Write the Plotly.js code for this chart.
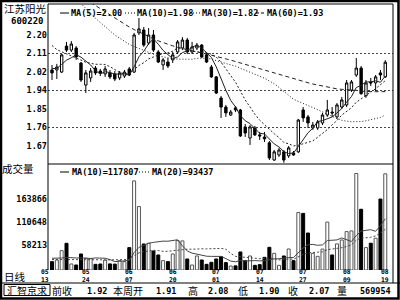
<!DOCTYPE html>
<html><head><meta charset="utf-8">
<script src="https://cdn.plot.ly/plotly-3.0.1.min.js"></script>
<style>html,body{margin:0;padding:0;background:#fff;}#chart{width:400px;height:300px;}</style>
</head><body><div id="chart"></div>
<script>
// ---- data ----
const openP  = [2.033,2.033,2.023,2.147,2.128,2.138,2.066,1.961,1.995,2.042,
                2.028,2.014,2.019,2.014,1.995,2.004,2.038,2.023,2.210,2.224,
                2.162,2.200,2.119,2.057,2.071,2.081,2.119,2.138,2.176,2.119,
                2.138,2.152,2.105,2.047,2.000,1.899,1.856,1.818,1.852,1.842,
                1.761,1.708,1.756,1.723,1.713,1.685,1.603,1.627,1.642,1.623,
                1.637,1.642,1.842,1.809,1.756,1.756,1.780,1.818,1.832,1.809,
                1.856,1.866,1.937,2.009,2.042,1.910,1.976,1.971,2.019,2.000];
const highP  = [2.057,2.062,2.109,2.167,2.171,2.147,2.071,2.033,2.042,2.052,
                2.038,2.052,2.033,2.028,2.028,2.033,2.047,2.210,2.281,2.238,
                2.233,2.224,2.128,2.090,2.090,2.119,2.176,2.190,2.186,2.167,
                2.162,2.157,2.114,2.057,2.004,1.909,1.866,1.842,1.861,1.847,
                1.775,1.770,1.766,1.737,1.737,1.694,1.651,1.661,1.651,1.670,
                1.646,1.799,1.856,1.818,1.785,1.794,1.828,1.890,1.856,1.875,
                1.904,1.985,1.985,2.090,2.052,1.985,1.995,2.009,2.033,2.080];
const lowP   = [1.985,1.990,2.019,2.119,2.119,2.081,1.976,1.923,1.976,2.009,
                2.004,2.000,1.990,1.980,1.985,1.995,2.004,2.019,2.200,2.143,
                2.152,2.119,2.066,2.033,2.042,2.066,2.109,2.128,2.109,2.109,
                2.128,2.090,2.066,1.995,1.918,1.804,1.809,1.813,1.832,1.713,
                1.713,1.675,1.718,1.699,1.689,1.603,1.599,1.618,1.590,1.613,
                1.623,1.637,1.785,1.756,1.747,1.747,1.770,1.809,1.809,1.799,
                1.847,1.856,1.928,2.000,1.914,1.900,1.956,1.932,1.985,1.995];
const closeP = [2.019,2.047,2.105,2.128,2.157,2.095,1.985,2.019,2.028,2.019,
                2.019,2.038,2.000,1.990,2.019,2.023,2.009,2.200,2.229,2.152,
                2.200,2.128,2.071,2.081,2.052,2.105,2.167,2.176,2.119,2.143,
                2.152,2.095,2.071,2.000,1.923,1.856,1.828,1.832,1.842,1.718,
                1.732,1.761,1.723,1.718,1.704,1.613,1.642,1.651,1.603,1.661,
                1.627,1.794,1.804,1.780,1.770,1.785,1.818,1.842,1.828,1.866,
                1.890,1.971,1.976,2.042,1.920,1.971,1.971,2.000,2.009,2.070];
const volume = [19200,23000,44500,61300,13800,11500,36800,26800,26000,13000,
                13800,23000,14000,13500,21500,19200,51400,204700,145700,59800,
                61300,43700,34500,21500,19200,36800,67500,66800,25300,11500,
                32200,23000,13000,17600,25300,30700,16900,9200,9500,41400,
                21500,32200,10700,12300,29100,52100,38300,10700,32200,48300,
                21500,132000,130000,85000,38300,31400,48000,110000,34500,60000,
                69000,88200,89700,221700,139500,51500,61500,73000,163000,220954];
// moving-average values before each window is full
const ma5Lead  = [2.04,2.04,2.06,2.08];
const ma10Lead = [2.15,2.13,2.12,2.11,2.10,2.09,2.08,2.07,2.065];
const ma30Lead = [2.52,2.49,2.46,2.43,2.40,2.375,2.35,2.325,2.30,2.28,2.26,2.24,2.22,2.20,2.185,
                  2.17,2.155,2.145,2.135,2.125,2.115,2.108,2.10,2.095,2.09,2.087,2.085,2.084,2.083];
const ma60Lead = [2.50,2.48,2.46,2.44,2.42,2.40,2.385,2.37,2.355,2.34,2.325,2.31,2.295,2.28,2.265,
                  2.25,2.238,2.226,2.214,2.203,2.192,2.182,2.172,2.163,2.155,2.148,2.141,2.135,2.129,2.124,
                  2.119,2.114,2.109,2.104,2.098,2.092,2.086,2.080,2.074,2.067,2.060,2.053,2.046,2.039,2.032,
                  2.025,2.018,2.011,2.004,1.997,1.990,1.984,1.978,1.972,1.966,1.961,1.956,1.951,1.947];
const vma10Lead = [27000,26500,27500,29000,28000,27500,28000,27000,26500];
const vma20Lead = [24000,24000,24500,25000,24500,24000,24500,24500,24000,23500,23500,23000,23000,22500,22500,22500,24000,33000,39500];

const priceTickVals = [2.2,2.1117,2.0233,1.935,1.8467,1.7583,1.67];
const priceTickText = ['2.20','2.11','2.02','1.94','1.85','1.76','1.67'];
const priceGridVals = [2.1117,1.935,1.7583];
const volTickVals = [163866,110648,58213];
const volTickText = ['163866','110648','58213'];
const dateMonths = ['05','05','06','06','07','07','07','08','08'];
const dateDays   = ['13','24','07','20','01','14','27','09','19'];
const datePos    = [0,7,16,25,34,43,52,61,69];
const priceLegend = ['MA(5)=2.00','MA(10)=1.98','MA(30)=1.82','MA(60)=1.93'];
const volLegend = ['MA(10)=117807','MA(20)=93437'];
const stockName = '江苏阳光', stockCode = '600220';
const infoLabels = ['前收','本周开','高','低','收','量'];
const infoValues = ['1.92','1.91','2.08','1.90','2.07','569954'];

// ---- helpers ----
const MONO = 'DejaVu Sans Mono, monospace';
const CJK = 'Noto Sans CJK SC, sans-serif';
const idx = closeP.map((_, i) => i);
function mavg(vals, n, lead) {
  return vals.map((v, i) => {
    if (i < n - 1) return lead[i];
    let s = 0; for (let k = i - n + 1; k <= i; k++) s += vals[k];
    return s / n;
  });
}
const L = 48, R = 393, T = 4, B = 270;
const px = x => (x - L) / (R - L);
const py = y => (B - y) / (B - T);
const splitY = py(164);
function ann(text, x, y, anchor, font) {
  return {text, xref:'paper', yref:'paper', x:px(x), y:py(y), xanchor:anchor||'left', yanchor:'middle',
          showarrow:false, borderpad:0, font:Object.assign({family:MONO, size:8.5, color:'#000', weight:700}, font||{})};
}
function seg(x0, y0, x1, y1, w, dash, color) {
  return {type:'line', xref:'paper', yref:'paper', x0:px(x0), y0:py(y0), x1:px(x1), y1:py(y1),
          line:{color:color||'#000', width:w||1, dash:dash||'solid'}};
}

const up = idx.map(i => closeP[i] >= openP[i]);
const volFill = up.map(u => u ? '#fff' : '#000');
const volLine = up.map(u => u ? '#555' : '#000');

const traces = [
  {type:'candlestick', x:idx, open:openP, high:highP, low:lowP, close:closeP, xaxis:'x', yaxis:'y',
   increasing:{line:{color:'#000', width:1}, fillcolor:'#fff'},
   decreasing:{line:{color:'#000', width:1}, fillcolor:'#000'},
   whiskerwidth:0, hoverinfo:'skip', showlegend:false},
  {type:'scatter', mode:'lines', x:idx, y:mavg(closeP,5,ma5Lead), yaxis:'y', line:{color:'#222', width:1}, hoverinfo:'skip'},
  {type:'scatter', mode:'lines', x:idx, y:mavg(closeP,10,ma10Lead), yaxis:'y', line:{color:'#222', width:1, dash:'2px,2px'}, hoverinfo:'skip'},
  {type:'scatter', mode:'lines', x:idx, y:mavg(closeP,30,ma30Lead), yaxis:'y', line:{color:'#222', width:1, dash:'1px,2px'}, hoverinfo:'skip'},
  {type:'scatter', mode:'lines', x:idx, y:mavg(closeP,60,ma60Lead), yaxis:'y', line:{color:'#222', width:1, dash:'4px,3px'}, hoverinfo:'skip'},
  {type:'bar', x:idx, y:volume, yaxis:'y2', width:0.62, marker:{color:volFill, line:{color:volLine, width:1}}, hoverinfo:'skip'},
  {type:'scatter', mode:'lines', x:idx, y:mavg(volume,10,vma10Lead), yaxis:'y2', line:{color:'#444', width:1}, hoverinfo:'skip'},
  {type:'scatter', mode:'lines', x:idx, y:mavg(volume,20,vma20Lead), yaxis:'y2', line:{color:'#444', width:1, dash:'2px,2px'}, hoverinfo:'skip'}
];

const shapes = [];
priceGridVals.forEach(v => shapes.push({type:'line', xref:'paper', yref:'y', x0:0, x1:1, y0:v, y1:v,
  line:{color:'#444', width:1, dash:'2px,2px'}, layer:'below'}));
shapes.push(seg(L, 164, R, 164, 1));           // panel separator
shapes.push(seg(L, T, R, T, 1));               // top of plot
shapes.push(seg(L, T, L, 270, 1));             // left frame
shapes.push(seg(R, T, R, 283, 1));             // right frame
shapes.push(seg(0, 283, 400, 283, 1));         // info bar top
shapes.push({type:'rect', xref:'paper', yref:'paper', x0:px(4), x1:px(50), y0:py(284.5), y1:py(295.5), line:{color:'#000', width:1}});
shapes.push({type:'rect', xref:'paper', yref:'paper', x0:px(1), x1:px(398.5), y0:py(1), y1:py(298.5), line:{color:'#000', width:2.5}});
// legend samples
shapes.push(seg(60, 13, 69, 13, 1));
shapes.push(seg(125, 13, 135, 13, 1, '1px,2px'));
shapes.push(seg(190, 13, 200, 13, 1, '1px,2px'));
shapes.push(seg(256, 13, 265, 13, 1, '3px,2px'));
shapes.push(seg(60, 172, 69, 172, 1));
shapes.push(seg(139, 172, 150, 172, 1, '1px,2px'));

const annotations = [
  ann(stockName, 25, 8, 'center', {family:CJK, size:10.5, weight:400}),
  ann(stockCode, 27, 21.5, 'center', {size:9}),
  ann(priceLegend[0], 70, 13), ann(priceLegend[1], 136, 13),
  ann(priceLegend[2], 201, 13), ann(priceLegend[3], 266, 13),
  ann('成交量', 18, 168, 'center', {family:CJK, size:10.5, weight:400}),
  ann(volLegend[0], 71, 172), ann(volLegend[1], 151, 172),
  ann('日线', 15, 276, 'center', {family:CJK, size:10.5, weight:400}),
  ann('汇智京求', 27, 290, 'center', {family:CJK, size:10, weight:400})
];
datePos.forEach((p, k) => {
  annotations.push({text:dateMonths[k] + '<br>' + dateDays[k], xref:'x', yref:'paper', x:p, y:py(276),
    xshift: k === 0 ? -7 : 0, xanchor:'center', yanchor:'middle', align:'center',
    showarrow:false, borderpad:0, font:{family:MONO, size:6.4, color:'#000', weight:700}});
});
const infoLabelX = [62, 128, 193, 243, 293, 342];
const infoValueX = [108, 177, 229, 280, 330, 392];
infoLabels.forEach((t, k) => annotations.push(ann(t, infoLabelX[k], 290.5, 'center', {family:CJK, size:10, weight:400})));
infoValues.forEach((t, k) => annotations.push(ann(t, infoValueX[k], 290.5, 'right', {size:8.5})));

const tickFont = {family:MONO, size:8.5, color:'#000', weight:700};
const layout = {
  width:400, height:300, margin:{l:L, r:400-R, t:T, b:300-B, pad:0},
  paper_bgcolor:'#fff', plot_bgcolor:'#fff', showlegend:false, bargap:0,
  xaxis:{range:[-0.83,70.6], anchor:'y2', showticklabels:false, showgrid:false, zeroline:false, showline:false,
         ticks:'', rangeslider:{visible:false}},
  yaxis:{domain:[splitY,1], range:[1.584,2.348], tickmode:'array', tickvals:priceTickVals, ticktext:priceTickText,
         ticks:'', showgrid:false, zeroline:false, showline:false, tickfont:tickFont},
  yaxis2:{domain:[0,splitY], range:[0,243500], tickmode:'array', tickvals:volTickVals, ticktext:volTickText,
          ticks:'', showgrid:false, zeroline:false, showline:false, tickfont:tickFont},
  shapes, annotations
};
Plotly.newPlot('chart', traces, layout, {staticPlot:true, displayModeBar:false});
</script></body></html>
